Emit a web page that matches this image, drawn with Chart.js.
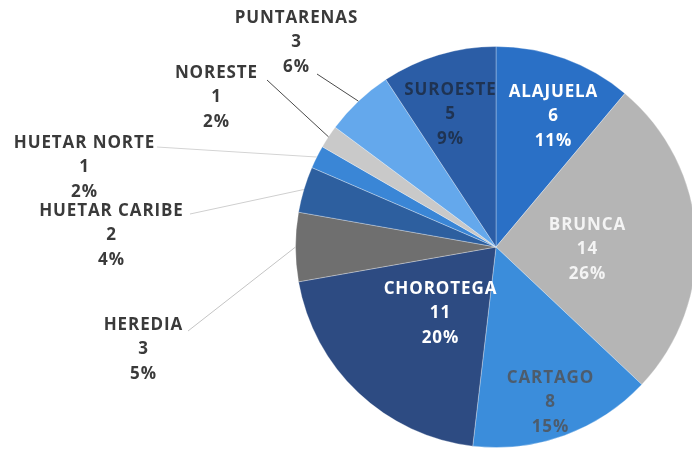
<!DOCTYPE html>
<html>
<head>
<meta charset="utf-8">
<script src="https://cdn.jsdelivr.net/npm/chart.js@4.4.1/dist/chart.umd.min.js"></script>
<style>
  html, body { margin: 0; padding: 0; background: #fff; overflow: hidden; }
  #wrap { width: 692px; height: 453px; overflow: hidden; position: relative; }
  canvas { display: block; }
</style>
</head>
<body>
<div id="wrap"><canvas id="chart" width="702" height="453"></canvas></div>
<script>
// Data (clockwise from 12 o'clock)
const regions = ['ALAJUELA','BRUNCA','CARTAGO','CHOROTEGA','HEREDIA','HUETAR CARIBE','HUETAR NORTE','NORESTE','PUNTARENAS','SUROESTE'];
const counts = [6, 14, 8, 11, 3, 2, 1, 1, 3, 5];
const pctLabels = ['11%','26%','15%','20%','5%','4%','2%','2%','6%','9%'];

// Styling
const sliceColors = ['#2a70c6','#b5b5b5','#3b8ddb','#2d4b82','#6f6f6f','#2d5f9f','#3a86d6','#c9c9c9','#64a8ec','#2b5da6'];
const textColors  = ['#ffffff','#f4f4f4','#4d5c6c','#ffffff','#3a3a3a','#3a3a3a','#3a3a3a','#3a3a3a','#3a3a3a','#1f3352'];
// label centre (first line) and leader-line start for outside labels
const labelPos = [
  {x:553, y:92}, {x:587, y:225}, {x:550, y:378}, {x:440, y:289}, {x:143, y:325},
  {x:111, y:211}, {x:84, y:143}, {x:216, y:73}, {x:296, y:18}, {x:450, y:90}
];
const leaders = [null, null, null, null,
  {x:188, y:331, c:'#c4c4c4'}, {x:190, y:214, c:'#cfcfcf'}, {x:157, y:147, c:'#d4d4d4'},
  {x:267, y:80, c:'#4a4a4a'}, {x:317, y:74, c:'#4a4a4a'}, null];

const lineH = 24.5;

const labelPlugin = {
  id: 'sliceLabels',
  afterDatasetsDraw(chart) {
    const ctx = chart.ctx;
    const meta = chart.getDatasetMeta(0);
    ctx.save();
    meta.data.forEach((arc, i) => {
      const ld = leaders[i];
      if (ld) {
        const p = arc.getProps(['x','y','startAngle','endAngle','outerRadius'], true);
        const mid = (p.startAngle + p.endAngle) / 2;
        ctx.strokeStyle = ld.c;
        ctx.lineWidth = 1;
        ctx.beginPath();
        ctx.moveTo(ld.x, ld.y);
        ctx.lineTo(p.x + Math.cos(mid) * p.outerRadius, p.y + Math.sin(mid) * p.outerRadius);
        ctx.stroke();
      }
      const lp = labelPos[i];
      ctx.fillStyle = textColors[i];
      ctx.font = 'bold 17px "Open Sans", sans-serif';
      ctx.letterSpacing = '0.9px';
      ctx.textAlign = 'center';
      ctx.textBaseline = 'middle';
      [regions[i], String(counts[i]), pctLabels[i]].forEach((t, k) => {
        ctx.fillText(t, lp.x + 0.45, lp.y + k * lineH);
      });
    });
    ctx.restore();
  }
};

new Chart(document.getElementById('chart'), {
  type: 'pie',
  data: {
    labels: regions,
    datasets: [{
      data: counts,
      backgroundColor: sliceColors,
      borderColor: 'rgba(255,255,255,0.3)',
      borderWidth: 1
    }]
  },
  options: {
    responsive: false,
    animation: false,
    layout: { padding: {left: 295, right: 5, top: 46, bottom: 5} },
    plugins: { legend: {display: false}, tooltip: {enabled: false} },
    events: []
  },
  plugins: [labelPlugin]
});
</script>
</body>
</html>
